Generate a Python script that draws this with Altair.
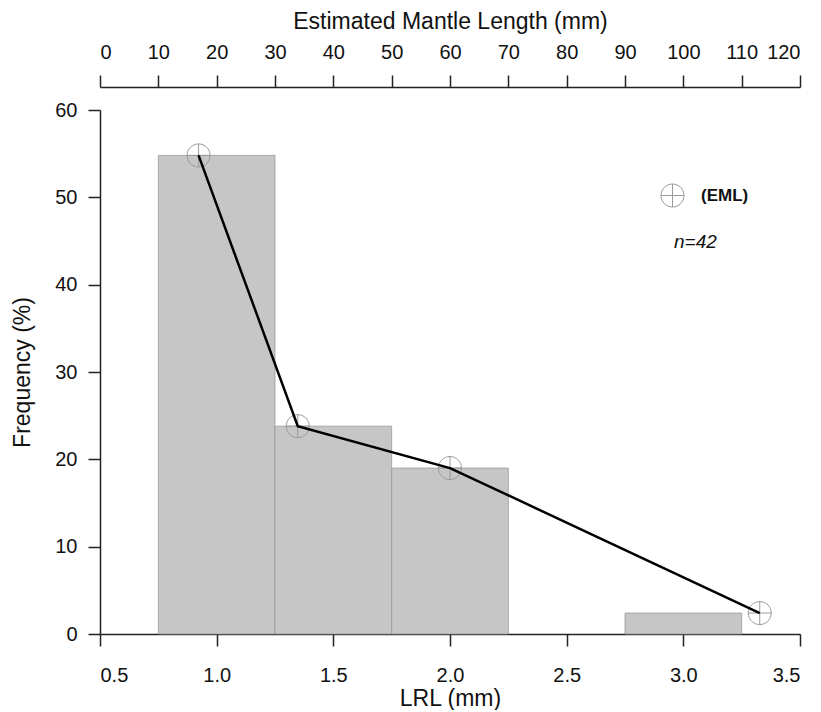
import altair as alt
import pandas as pd

# Histogram of LRL (mm)
bin_start = [0.75, 1.25, 1.75, 2.75]
bin_end = [1.25, 1.75, 2.25, 3.25]
freq = [54.8, 23.8, 19.0, 2.4]

# Estimated mantle length (EML) points
eml_mm = [16.9, 33.9, 60.0, 113.1]
eml_freq = [54.8, 23.8, 19.0, 2.4]

bars_df = pd.DataFrame({"start": bin_start, "end": bin_end, "freq": freq})
eml_df = pd.DataFrame({"mm": eml_mm, "freq": eml_freq, "series": ["(EML)"] * len(eml_mm)})
note_df = pd.DataFrame({"label": ["n=42"]})

FONT = "Liberation Sans"
AX = "#222222"
CIRCLE_CROSS = "M-1,0A1,1,0,1,1,1,0A1,1,0,1,1,-1,0ZM-1,0L1,0M0,-1L0,1"

yscale = alt.Scale(domain=[0, 60], nice=False, zero=True)
yaxis = alt.Axis(
    title="Frequency (%)", values=[0, 10, 20, 30, 40, 50, 60], grid=False,
    tickSize=12, labelPadding=11, titlePadding=20, labelFontSize=20, titleFontSize=23,
)
yenc = alt.Y("freq:Q", scale=yscale, axis=yaxis)

mmscale = alt.Scale(domain=[0, 120], nice=False, zero=True)
mmaxis = alt.Axis(title="Estimated Mantle Length (mm)", orient="top", offset=23,
                  values=list(range(0, 121, 10)), grid=False, tickSize=12,
                  labelPadding=13, titlePadding=9, labelFontSize=20, titleFontSize=23)
mmx = alt.X("mm:Q", scale=mmscale, axis=mmaxis)

bars = alt.Chart(bars_df).mark_rect(
    fill="#c6c6c6", stroke="#9a9a9a", strokeWidth=0.8
).encode(
    x=alt.X("start:Q", scale=alt.Scale(domain=[0.5, 3.5], nice=False, zero=False),
            axis=alt.Axis(title="LRL (mm)", values=[0.5, 1.0, 1.5, 2.0, 2.5, 3.0, 3.5],
                          format=".1f", grid=False, tickSize=12, labelPadding=19,
                          titlePadding=2, labelFontSize=20, titleFontSize=23, orient="bottom")),
    x2="end:Q",
    y=yenc,
)

points = alt.Chart(eml_df).mark_point(
    filled=False, stroke="#9a9a9a", strokeWidth=1, size=530, opacity=1
).encode(
    x=mmx,
    y=yenc,
    shape=alt.Shape("series:N", scale=alt.Scale(range=[CIRCLE_CROSS]),
                    legend=alt.Legend(title=None, orient="none", legendX=560, legendY=73,
                                      labelFontSize=17, labelFontWeight="bold",
                                      labelFont=FONT, labelColor="#111111",
                                      symbolSize=530, symbolStrokeColor="#9a9a9a",
                                      symbolFillColor="transparent", symbolStrokeWidth=1,
                                      labelOffset=16)),
)

line = alt.Chart(eml_df).mark_line(color="#000000", strokeWidth=2.5).encode(
    x=mmx,
    y=yenc,
)

note = alt.Chart(note_df).mark_text(
    font=FONT, fontSize=19, fontStyle="italic", align="left", baseline="middle", color="#111111"
).encode(
    x=alt.value(574), y=alt.value(132), text="label:N"
)

top = alt.layer(points, line, note)

chart = alt.layer(bars, top).resolve_scale(x="independent").properties(
    width=700, height=524,
    autosize=alt.AutoSizeParams(type="none"),
    padding={"left": 92, "top": 102, "right": 13, "bottom": 76},
).configure_view(stroke=None).configure_axis(
    domainColor=AX, domainWidth=1.5, tickColor=AX, tickWidth=1.5,
    labelColor="#111111", titleColor="#111111", labelFont=FONT, titleFont=FONT,
    titleFontWeight="normal",
)

chart.save("out.html", embed_options={"renderer": "svg", "actions": False})
